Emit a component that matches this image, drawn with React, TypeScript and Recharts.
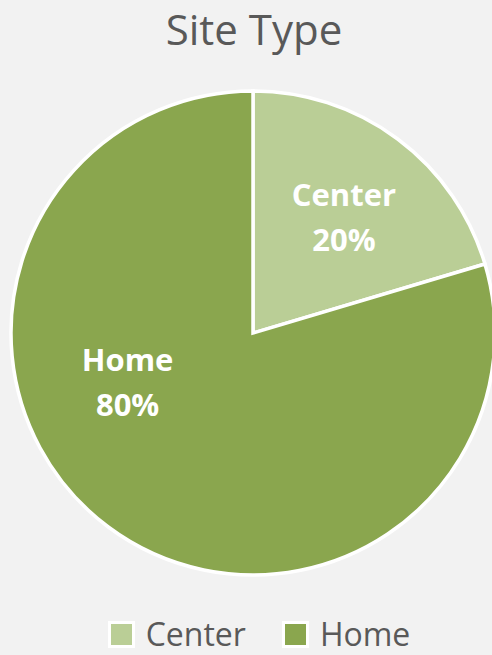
import React from "react";
import { PieChart, Pie, Cell, Legend } from "recharts";

const siteTypes = ["Center", "Home"];
const siteShares = [20.4, 79.6];
const sliceColors = ["#bace96", "#8aa64e"];

// Excel put the labels by "best fit", so they do not sit on each slice's mid angle
const labelPlacement: Record<string, { angle: number; ratio: number }> = {
  Center: { angle: 52, ratio: 0.61 },
  Home: { angle: 201, ratio: 0.555 },
};

const chartData = siteTypes.map((name, i) => ({ name, value: siteShares[i] }));

const RADIAN = Math.PI / 180;

function renderSliceLabel(props: any): React.ReactElement {
  const { cx, cy, midAngle, outerRadius, percent, name } = props;
  const place = labelPlacement[name] ?? { angle: midAngle, ratio: 0.6 };
  const r = outerRadius * place.ratio;
  const x = cx + r * Math.cos(place.angle * RADIAN);
  const y = cy - r * Math.sin(place.angle * RADIAN);
  return (
    <text
      x={x}
      y={y}
      textAnchor="middle"
      fill="#ffffff"
      fontFamily="'Open Sans', sans-serif"
      fontWeight={700}
      fontSize={31}
    >
      <tspan x={x} y={y - 10.5}>
        {name}
      </tspan>
      <tspan x={x} y={y + 34.5}>
        {`${Math.round(percent * 100)}%`}
      </tspan>
    </text>
  );
}

function LegendContent(): React.ReactElement {
  return (
    <div
      style={{
        display: "flex",
        justifyContent: "center",
        alignItems: "center",
        gap: 36,
        paddingLeft: 26,
        fontFamily: "'Open Sans', sans-serif",
        fontSize: 32,
        color: "#595959",
        lineHeight: "32px",
      }}
    >
      {siteTypes.map((name, i) => (
        <div key={name} style={{ display: "flex", alignItems: "center", gap: 11 }}>
          <span
            style={{
              display: "inline-block",
              width: 21,
              height: 21,
              background: sliceColors[i],
              border: "3px solid #ffffff",
            }}
          />
          <span>{name}</span>
        </div>
      ))}
    </div>
  );
}

export default function App(): React.ReactElement {
  return (
    <div
      style={{
        position: "absolute",
        left: 0,
        top: 0,
        width: 492,
        height: 655,
        background: "#f2f2f2",
        overflow: "hidden",
      }}
    >
      <svg
        width={492}
        height={60}
        style={{ position: "absolute", left: 0, top: 0 }}
      >
        <text
          x={254}
          y={45}
          textAnchor="middle"
          fill="#595959"
          fontFamily="'Open Sans', sans-serif"
          fontSize={42}
        >
          Site Type
        </text>
      </svg>
      <PieChart
        width={492}
        height={655}
        margin={{ top: 0, right: 0, bottom: 0, left: 0 }}
        style={{ position: "absolute", left: 0, top: 0 }}
      >
        <Pie
          data={chartData}
          dataKey="value"
          nameKey="name"
          cx={253}
          cy={333}
          outerRadius={242}
          startAngle={90}
          endAngle={-270}
          stroke="#ffffff"
          strokeWidth={3.5}
          label={renderSliceLabel}
          labelLine={false}
          isAnimationActive={false}
        >
          {chartData.map((entry, i) => (
            <Cell key={entry.name} fill={sliceColors[i]} />
          ))}
        </Pie>
        <Legend
          content={<LegendContent />}
          wrapperStyle={{ position: "absolute", left: 0, top: 618, width: 492 }}
        />
      </PieChart>
    </div>
  );
}
